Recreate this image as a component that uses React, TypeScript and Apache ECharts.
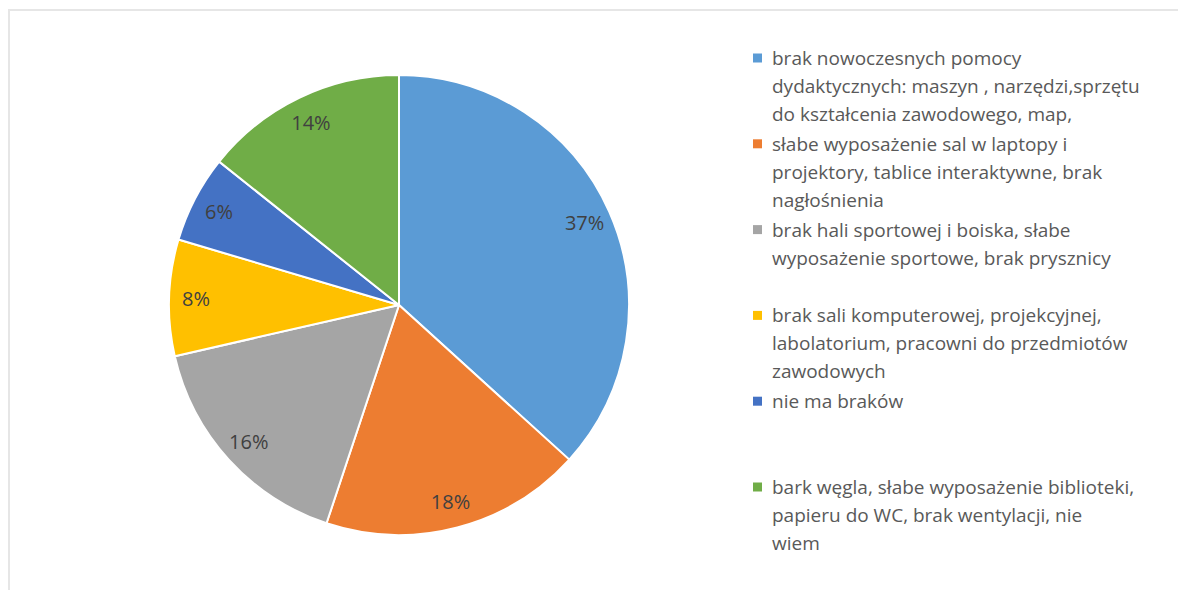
import React, { useEffect, useRef } from "react";
import * as echarts from "echarts";

const categories: string[] = [
  "brak nowoczesnych pomocy\ndydaktycznych: maszyn , narzędzi,sprzętu\ndo kształcenia zawodowego, map,",
  "słabe wyposażenie sal w laptopy i\nprojektory, tablice interaktywne, brak\nnagłośnienia",
  "brak hali sportowej i boiska, słabe\nwyposażenie sportowe, brak prysznicy",
  "brak sali komputerowej, projekcyjnej,\nlabolatorium, pracowni do przedmiotów\nzawodowych",
  "nie ma braków",
  "bark węgla, słabe wyposażenie biblioteki,\npapieru do WC, brak wentylacji, nie\nwiem",
];
const counts: number[] = [18, 9, 8, 4, 3, 7];
const colors: string[] = ["#5B9BD5", "#ED7D31", "#A5A5A5", "#FFC000", "#4472C4", "#70AD47"];

const FONT = "'Open Sans', sans-serif";
const LH = 28;

export default function App() {
  const ref = useRef<HTMLDivElement>(null);
  useEffect(() => {
    if (!ref.current) return;
    const chart = echarts.init(ref.current, null, { renderer: "svg" });
    const total = counts.reduce((a, b) => a + b, 0);
    const data = categories.map((name, i) => ({
      name,
      value: counts[i],
      itemStyle: { color: colors[i] },
    }));
    const rich: Record<string, any> = {
      t: { fontSize: 19, lineHeight: LH, color: "#595959", fontFamily: FONT },
      sp: { width: 10, lineHeight: LH },
      g: { width: 19, lineHeight: LH },
    };
    colors.forEach((c, i) => {
      rich["s" + i] = { width: 9, height: 9, lineHeight: LH, backgroundColor: c };
    });
    chart.setOption({
      animation: false,
      graphic: [
        {
          type: "rect",
          shape: { x: 1, y: 2, width: 3000, height: 3000 },
          style: { fill: "none", stroke: "#e6e6e6", lineWidth: 2 },
          silent: true,
        },
      ],
      legend: {
        orient: "vertical",
        left: 739,
        top: 36,
        padding: 0,
        itemWidth: 0,
        itemHeight: 0,
        itemGap: 1.8,
        itemStyle: { opacity: 0 },
        selectedMode: false,
        data: categories,
        formatter: (name: string) => {
          const i = categories.indexOf(name);
          const lines = name.split("\n");
          while (lines.length < 3) lines.push(" ");
          return lines
            .map((l, k) => (k === 0 ? `{s${i}|}{sp|}` : "{g|}") + `{t|${l}}`)
            .join("\n");
        },
        textStyle: { lineHeight: LH, fontSize: 19, fontFamily: FONT, rich },
      },
      series: [
        {
          type: "pie",
          center: [391, 297],
          radius: [0, 230],
          startAngle: 90,
          clockwise: true,
          silent: true,
          label: { show: false },
          labelLine: { show: false },
          itemStyle: { borderColor: "#ffffff", borderWidth: 2 },
          emphasis: { disabled: true },
          data,
        },
        {
          type: "pie",
          center: [391, 297],
          radius: [170, 230],
          startAngle: 90,
          clockwise: true,
          silent: true,
          itemStyle: { color: "rgba(0,0,0,0)", borderWidth: 0 },
          emphasis: { disabled: true },
          label: {
            show: true,
            position: "inside",
            color: "#404040",
            fontSize: 20,
            fontFamily: FONT,
            formatter: (p: any) => Math.round((p.value / total) * 100) + "%",
          },
          labelLine: { show: false },
          data: categories.map((name, i) => ({ name, value: counts[i] })),
        },
      ],
    });
    return () => chart.dispose();
  }, []);
  return <div ref={ref} style={{ width: 1178, height: 582 }} />;
}
